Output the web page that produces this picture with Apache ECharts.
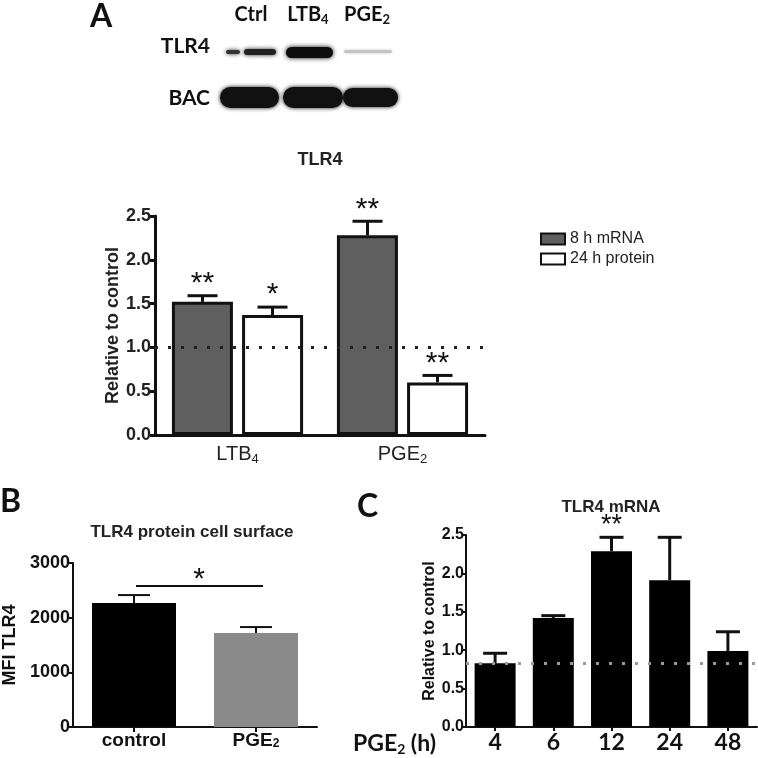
<!DOCTYPE html>
<html><head><meta charset="utf-8">
<script src="https://cdn.jsdelivr.net/npm/echarts@6/dist/echarts.min.js"></script>
<style>html,body{margin:0;padding:0;background:#fff}#c{width:758px;height:758px}</style>
</head><body><div id="c"></div>
<script>
// Panel A data
const aCategories = ['LTB4', 'PGE2'];
const aMrna = [1.52, 2.28];
const aMrnaErr = [0.07, 0.16];
const aMrnaStars = ['**', '**'];
const aProtein = [1.37, 0.60];
const aProteinErr = [0.09, 0.08];
const aProteinStars = ['*', '**'];
const aRef = 1.0;
// Panel B data
const bCategories = ['control', 'PGE2'];
const bValues = [2267, 1718];
const bErr = [146, 110];
const bSig = 2580;
// Panel C data
const cCategories = ['4', '6', '12', '24', '48'];
const cValues = [0.83, 1.42, 2.29, 1.91, 0.99];
const cErr = [0.13, 0.03, 0.18, 0.56, 0.25];
const cStars = ['', '', '**', '', ''];
const cRef = 0.83;

const INK = '#111';
const subFmt = v => v === 'LTB4' ? 'LTB{s|4}' : (v === 'PGE2' ? 'PGE{s|2}' : v);

function errorSeries(xi, yi, vals, errs, offset, capW, lw, stars, starSize, starGap) {
  return {
    type: 'custom', xAxisIndex: xi, yAxisIndex: yi, z: 5, silent: true, clip: false,
    data: vals.map((v, i) => [i, v, v + errs[i]]),
    renderItem: function (params, api) {
      const base = api.coord([api.value(0), api.value(1)]);
      const top = api.coord([api.value(0), api.value(2)]);
      const cx = base[0] + offset;
      const children = [
        {type: 'line', shape: {x1: cx, y1: base[1], x2: cx, y2: top[1]}, style: {stroke: INK, lineWidth: lw}},
        {type: 'line', shape: {x1: cx - capW / 2, y1: top[1], x2: cx + capW / 2, y2: top[1]}, style: {stroke: INK, lineWidth: lw}}
      ];
      const s = stars ? stars[params.dataIndex] : '';
      if (s) children.push({type: 'text', x: cx, y: top[1] - starGap,
        style: {text: s, fill: INK, fontSize: starSize, fontFamily: 'Arial', align: 'center', verticalAlign: 'middle'}});
      return {type: 'group', children: children};
    }
  };
}

const chart = echarts.init(document.getElementById('c'));
const band = (x, y, w, h, fill, blur) => ({type: 'rect', shape: {x: x, y: y, width: w, height: h, r: h / 2},
  style: {fill: fill, shadowBlur: blur, shadowColor: fill}});
const txt = (x, y, text, size, opts) => Object.assign({type: 'text', x: x, y: y,
  style: Object.assign({text: text, fontSize: size, fontWeight: 'bold', fontFamily: 'Lato', fill: INK,
    align: 'left', verticalAlign: 'middle'}, (opts || {}))});

const option = {
  animation: false,
  backgroundColor: '#fff',
  grid: [
    {left: 155, top: 216, width: 330, height: 219},
    {left: 70, top: 563, width: 247, height: 164},
    {left: 466, top: 535, width: 291, height: 192}
  ],
  legend: {
    data: ['8 h mRNA', '24 h protein'], left: 535, top: 226, orient: 'vertical', icon: 'rect',
    itemWidth: 24, itemHeight: 11, itemGap: 4,
    textStyle: {fontFamily: 'Arial', fontSize: 16, color: '#222'}
  },
  xAxis: [
    {gridIndex: 0, type: 'category', data: aCategories,
      axisLine: {lineStyle: {color: INK, width: 3}}, axisTick: {show: false},
      axisLabel: {margin: 8, color: '#222', fontFamily: 'Arial', fontSize: 20, formatter: subFmt,
        rich: {s: {fontSize: 13, fontFamily: 'Arial', color: '#222', padding: [10, 0, 0, 0]}}}},
    {gridIndex: 1, type: 'category', data: bCategories,
      axisLine: {lineStyle: {color: INK, width: 2}}, axisTick: {show: true, alignWithLabel: true, length: 5, lineStyle: {width: 2}},
      axisLabel: {margin: 4, color: INK, fontFamily: 'Arial', fontWeight: 'bold', fontSize: 19, formatter: subFmt,
        rich: {s: {fontSize: 12, fontWeight: 'bold', fontFamily: 'Arial', color: INK, padding: [7, 0, 0, 0]}}}},
    {gridIndex: 2, type: 'category', data: cCategories,
      axisLine: {lineStyle: {color: INK, width: 2}}, axisTick: {show: true, alignWithLabel: true, length: 4, lineStyle: {width: 2}},
      axisLabel: {margin: 4, color: INK, fontFamily: 'Lato', fontWeight: 'bold', fontSize: 23}}
  ],
  yAxis: [
    {gridIndex: 0, type: 'value', min: 0, max: 2.5, interval: 0.5,
      axisLine: {show: true, lineStyle: {color: INK, width: 3}}, axisTick: {show: true, length: 5, lineStyle: {width: 3}},
      splitLine: {show: false},
      axisLabel: {formatter: v => v.toFixed(1), color: '#222', fontFamily: 'Arial', fontWeight: 'bold', fontSize: 18, margin: 4},
      name: 'Relative to control', nameLocation: 'middle', nameGap: 32,
      nameTextStyle: {fontFamily: 'Arial', fontWeight: 'bold', fontSize: 18, color: '#222'}},
    {gridIndex: 1, type: 'value', min: 0, max: 3000, interval: 1000,
      axisLine: {show: true, lineStyle: {color: INK, width: 2}}, axisTick: {show: true, length: 5, lineStyle: {width: 2}},
      splitLine: {show: false},
      axisLabel: {formatter: v => String(v), color: INK, fontFamily: 'Arial', fontWeight: 'bold', fontSize: 18, margin: 3},
      name: 'MFI TLR4', nameLocation: 'middle', nameGap: 54,
      nameTextStyle: {fontFamily: 'Arial', fontWeight: 'bold', fontSize: 18, color: INK}},
    {gridIndex: 2, type: 'value', min: 0, max: 2.5, interval: 0.5,
      axisLine: {show: true, lineStyle: {color: INK, width: 2}}, axisTick: {show: true, length: 4, lineStyle: {width: 2}},
      splitLine: {show: false},
      axisLabel: {formatter: v => v.toFixed(1), color: INK, fontFamily: 'Arial', fontWeight: 'bold', fontSize: 16, margin: 2},
      name: 'Relative to control', nameLocation: 'middle', nameGap: 27,
      nameTextStyle: {fontFamily: 'Arial', fontWeight: 'bold', fontSize: 16, color: INK}}
  ],
  series: [
    {type: 'bar', name: '8 h mRNA', xAxisIndex: 0, yAxisIndex: 0, data: aMrna, barWidth: 61, barGap: '15%',
      itemStyle: {color: '#5f5f5f', borderColor: INK, borderWidth: 3},
      markLine: {silent: true, symbol: 'none', label: {show: false}, z: 6,
        lineStyle: {type: [3, 10], width: 3, color: '#222'}, data: [{yAxis: aRef}]}},
    {type: 'bar', name: '24 h protein', xAxisIndex: 0, yAxisIndex: 0, data: aProtein, barWidth: 61, barGap: '15%',
      itemStyle: {color: '#fff', borderColor: INK, borderWidth: 3}},
    errorSeries(0, 0, aMrna, aMrnaErr, -35, 30, 3, aMrnaStars, 30, 12),
    errorSeries(0, 0, aProtein, aProteinErr, 35, 30, 3, aProteinStars, 30, 12),

    {type: 'bar', name: 'B', xAxisIndex: 1, yAxisIndex: 1, barWidth: 84,
      data: bValues.map((v, i) => ({value: v, itemStyle: {color: i === 0 ? '#000' : '#8a8a8a'}}))},
    errorSeries(1, 1, bValues, bErr, 0, 32, 2, null, 0, 0),
    {type: 'custom', name: 'sig', xAxisIndex: 1, yAxisIndex: 1, silent: true, clip: false, z: 5,
      data: [[0, 1, bSig]],
      renderItem: function (params, api) {
        const p0 = api.coord([api.value(0), api.value(2)]);
        const p1 = api.coord([api.value(1), api.value(2)]);
        return {type: 'group', children: [
          {type: 'line', shape: {x1: p0[0] + 2, y1: p0[1], x2: p1[0] + 7, y2: p1[1]}, style: {stroke: INK, lineWidth: 2}},
          {type: 'text', x: (p0[0] + p1[0]) / 2 + 4, y: p0[1] - 6,
            style: {text: '*', fill: INK, fontSize: 30, fontFamily: 'Arial', align: 'center', verticalAlign: 'middle'}}
        ]};
      }},

    {type: 'bar', name: 'C', xAxisIndex: 2, yAxisIndex: 2, data: cValues, barWidth: 41,
      itemStyle: {color: '#000'},
      markLine: {silent: true, symbol: 'none', label: {show: false}, z: 6,
        lineStyle: {type: [3, 10], width: 3, color: '#9a9a9a'}, data: [{yAxis: cRef}]}},
    errorSeries(2, 2, cValues, cErr, 0, 24, 3, cStars, 27, 12)
  ],
  graphic: [
    txt(90, 17, 'A', 32),
    txt(0, 502, 'B', 32),
    txt(357, 507, 'C', 32),
    txt(251, 15, 'Ctrl', 20, {align: 'center'}),
    txt(308, 15, 'LTB{s|4}', 20, {align: 'center', rich: {s: {fontSize: 13, fontWeight: 'bold', fontFamily: 'Lato', padding: [9, 0, 0, 0]}}}),
    txt(367, 15, 'PGE{s|2}', 20, {align: 'center', rich: {s: {fontSize: 13, fontWeight: 'bold', fontFamily: 'Lato', padding: [9, 0, 0, 0]}}}),
    txt(210, 46, 'TLR4', 21, {align: 'right'}),
    txt(210, 98, 'BAC', 21, {align: 'right'}),
    band(226, 50, 14, 4, '#333', 4),
    band(244, 49, 32, 6, '#222', 4),
    band(286, 47, 47, 11, '#0d0d0d', 5),
    band(344, 50, 48, 3, '#c4c4c4', 3),
    band(220, 87, 59, 21, '#111', 4),
    band(283, 87, 60, 21, '#111', 4),
    band(343, 88, 55, 19, '#111', 4),
    txt(320, 160, 'TLR4', 18, {align: 'center', fontFamily: 'Arial', fill: '#222'}),
    txt(192, 532, 'TLR4 protein cell surface', 17, {align: 'center', fontFamily: 'Arial', fill: '#222'}),
    txt(611, 507, 'TLR4 mRNA', 17, {align: 'center', fontFamily: 'Arial', fill: '#222'}),
    txt(353, 744, 'PGE{s|2} (h)', 23, {rich: {s: {fontSize: 14, fontWeight: 'bold', fontFamily: 'Lato', padding: [10, 0, 0, 0]}}})
  ]
};
chart.setOption(option);
</script></body></html>
